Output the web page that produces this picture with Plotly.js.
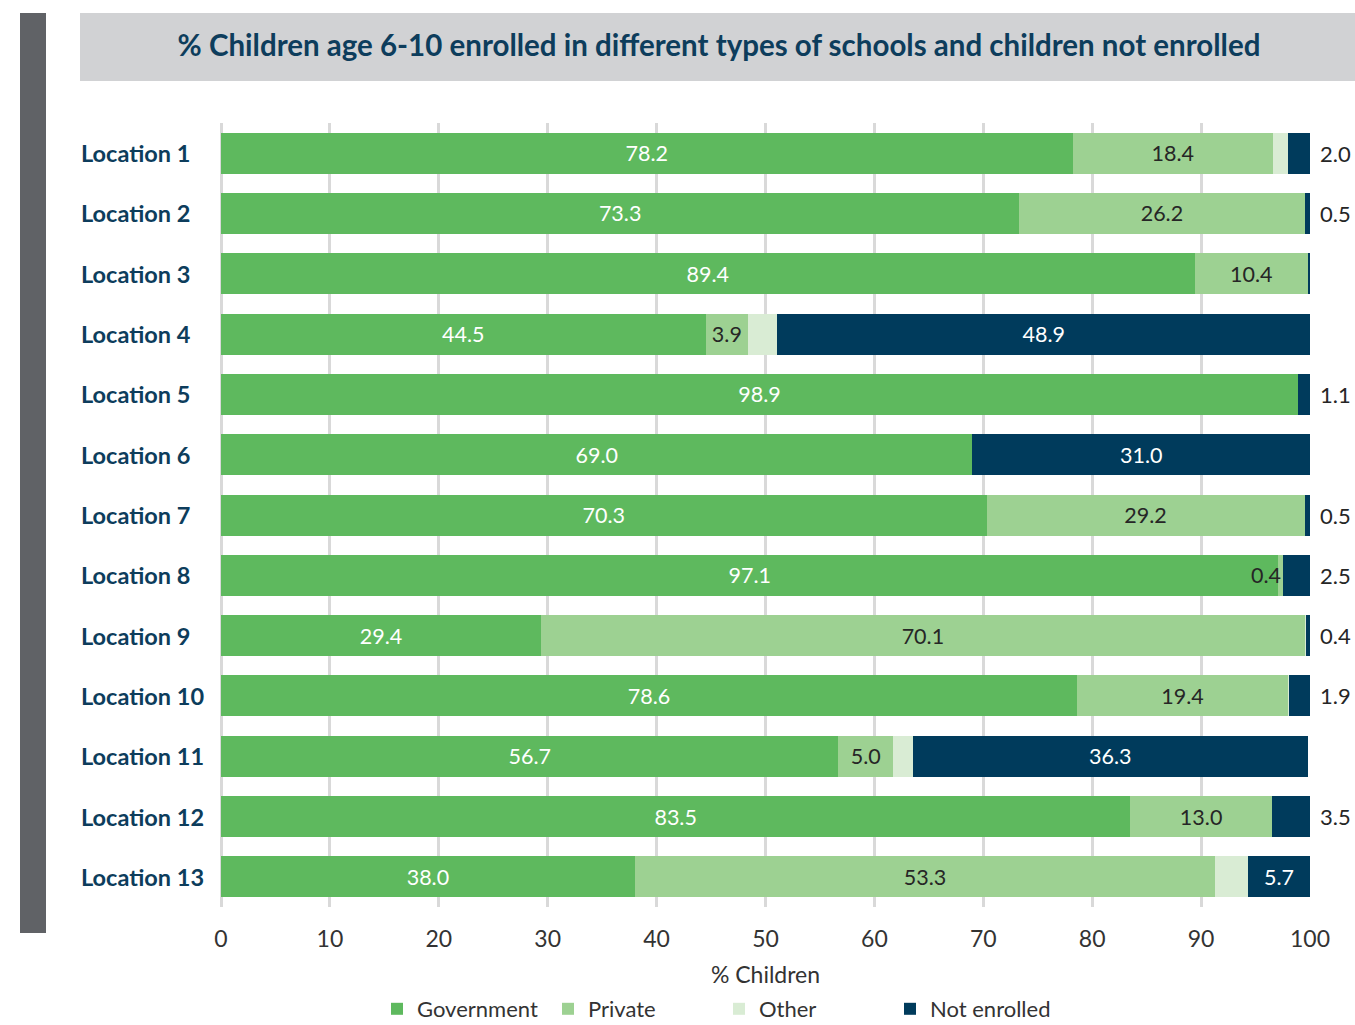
<!DOCTYPE html>
<html>
<head>
<meta charset="utf-8">
<script src="https://cdn.plot.ly/plotly-3.0.1.min.js"></script>
<style>html,body{margin:0;padding:0;background:#fff;}#chart{width:1355px;height:1025px;}</style>
</head>
<body>
<div id="chart"></div>
<script>
const locations = ["Location 1","Location 2","Location 3","Location 4","Location 5","Location 6","Location 7","Location 8","Location 9","Location 10","Location 11","Location 12","Location 13"];
const government = [78.2,73.3,89.4,44.5,98.9,69.0,70.3,97.1,29.4,78.6,56.7,83.5,38.0];
const privateSch = [18.4,26.2,10.4,3.9,0,0,29.2,0.4,70.1,19.4,5.0,13.0,53.3];
const other = [1.4,0,0,2.7,0,0,0,0,0.1,0.1,1.8,0,3.0];
const notEnrolled = [2.0,0.5,0.2,48.9,1.1,31.0,0.5,2.5,0.4,1.9,36.3,3.5,5.7];
const xTicks = [0,10,20,30,40,50,60,70,80,90,100];

const FONT = "Lato, 'Open Sans', sans-serif";
const NAVY = "#0d3d5c";
const fmt = v => v.toFixed(1);

const privText = privateSch.map(v => (v >= 3 ? fmt(v) : ""));
const neInside = notEnrolled.map(v => v >= 5);

const traces = [
  {name:"Government", type:"bar", orientation:"h", y:locations, x:government,
   marker:{color:"#5eb95e"}, text:government.map(fmt), textposition:"inside",
   insidetextanchor:"middle", insidetextfont:{color:"#ffffff", size:21.5, family:FONT},
   hoverinfo:"x+name", constraintext:"none"},
  {name:"Private", type:"bar", orientation:"h", y:locations, x:privateSch,
   marker:{color:"#9dd192"}, text:privText, textposition:"inside",
   insidetextanchor:"middle", insidetextfont:{color:"#262626", size:21.5, family:FONT},
   hoverinfo:"x+name", constraintext:"none"},
  {name:"Other", type:"bar", orientation:"h", y:locations, x:other,
   marker:{color:"#d9ecd4"}, textposition:"none", hoverinfo:"x+name"},
  {name:"Not enrolled", type:"bar", orientation:"h", y:locations, x:notEnrolled,
   marker:{color:"#003b5c"}, text:notEnrolled.map((v,i) => neInside[i] ? fmt(v) : ""),
   textposition:"inside", insidetextanchor:"middle",
   insidetextfont:{color:"#ffffff", size:21.5, family:FONT},
   hoverinfo:"x+name", constraintext:"none"}
];

const L = 221, R = 1310, T = 123, B = 907;
const W = R - L, H = B - T;
const px = x => (x - L) / W;
const py = y => (B - y) / H;

const annotations = locations.map(loc => ({
  xref:"paper", yref:"y", x:px(79), y:loc, xanchor:"left", yanchor:"middle",
  text:"<b>"+loc+"</b>", showarrow:false,
  font:{family:FONT, size:23.5, color:NAVY}
}));
// small private segment labels (end of segment)
privateSch.forEach((v, i) => {
  if (v > 0 && v < 3) {
    annotations.push({xref:"x", yref:"y", x:government[i] + v, y:locations[i],
      xanchor:"right", yanchor:"middle", text:fmt(v), showarrow:false,
      font:{family:FONT, size:21.5, color:"#262626"}});
  }
});
// outside labels for small "Not enrolled" values
notEnrolled.forEach((v, i) => {
  if (!neInside[i]) {
    const total = government[i] + privateSch[i] + other[i] + v;
    annotations.push({xref:"x", yref:"y", x:total, y:locations[i], xshift:8,
      xanchor:"left", yanchor:"middle", text:fmt(v), showarrow:false,
      font:{family:FONT, size:22, color:"#262626"}});
  }
});

const layout = {
  width:1355, height:1025,
  margin:{l:L, r:1355-R, t:T, b:1025-B, pad:0},
  paper_bgcolor:"#ffffff", plot_bgcolor:"#ffffff",
  barmode:"stack", bargap:0.32,
  font:{family:FONT, color:"#333333", size:20},
  title:{text:"<b>% Children age 6-10 enrolled in different types of schools and children not enrolled</b>",
    font:{family:FONT, size:29.5, color:NAVY},
    xref:"container", x:719/1355, xanchor:"center",
    yref:"container", y:1-46/1025, yanchor:"middle"},
  xaxis:{range:[0,100], tickvals:xTicks, ticktext:xTicks.map(String),
    showgrid:true, gridcolor:"#d9d9d9", gridwidth:3,
    zeroline:true, zerolinecolor:"#d9d9d9", zerolinewidth:3,
    ticks:"", ticklabelstandoff:16, automargin:false,
    tickfont:{family:FONT, size:23, color:"#333333"},
    title:{text:"% Children", font:{family:FONT, size:23, color:"#333333"}, standoff:20},
    fixedrange:true},
  yaxis:{autorange:"reversed", showticklabels:false, showgrid:false, zeroline:false,
    ticks:"", fixedrange:true},
  showlegend:true,
  legend:{orientation:"h", xref:"container", yref:"container",
    x:719/1355, xanchor:"center", y:1-1009/1025, yanchor:"middle",
    font:{family:FONT, size:22, color:"#333333"}, traceorder:"normal",
    entrywidth:126, entrywidthmode:"pixels"},
  shapes:[
    {type:"rect", xref:"paper", yref:"paper", x0:px(80), x1:px(1355), y0:py(81), y1:py(13),
     fillcolor:"#d1d2d4", line:{width:0}, layer:"below"},
    {type:"rect", xref:"paper", yref:"paper", x0:px(20), x1:px(46), y0:py(933), y1:py(13),
     fillcolor:"#606266", line:{width:0}, layer:"below"}
  ],
  annotations:annotations
};

Plotly.newPlot("chart", traces, layout, {displayModeBar:false, staticPlot:true});
</script>
</body>
</html>
